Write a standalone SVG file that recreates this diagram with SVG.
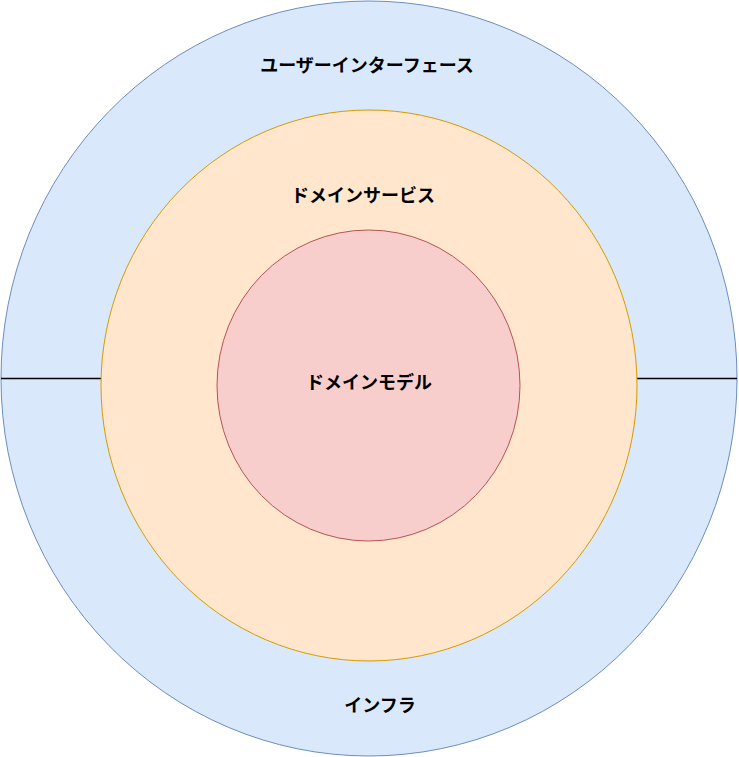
<svg xmlns="http://www.w3.org/2000/svg" width="739" height="757" viewBox="0 0 739 757">
<style>
text{font-family:"Noto Sans CJK JP","Noto Sans",sans-serif;font-size:18px;font-weight:bold;fill:#000;text-anchor:middle;dominant-baseline:central}
</style>
<rect width="739" height="757" fill="#fff"/>
<g id="outer"><ellipse cx="369" cy="378.5" rx="368" ry="377.5" fill="#dae8fc" stroke="#6c8ebf"/><text x="367" y="64">ユーザーインターフェース</text><text x="380" y="704">インフラ</text></g>
<g id="connectors" stroke="#000" stroke-width="1.3"><line x1="1" y1="378.5" x2="101" y2="378.5"/><line x1="637" y1="378.5" x2="737" y2="378.5"/></g>
<g id="middle"><ellipse cx="369" cy="385.5" rx="268" ry="275.5" fill="#ffe6cc" stroke="#d79b00"/><text x="363" y="194">ドメインサービス</text></g>
<g id="inner"><ellipse cx="368.5" cy="385.5" rx="151.5" ry="155.5" fill="#f8cecc" stroke="#b85450"/><text x="369" y="381">ドメインモデル</text></g>
</svg>
